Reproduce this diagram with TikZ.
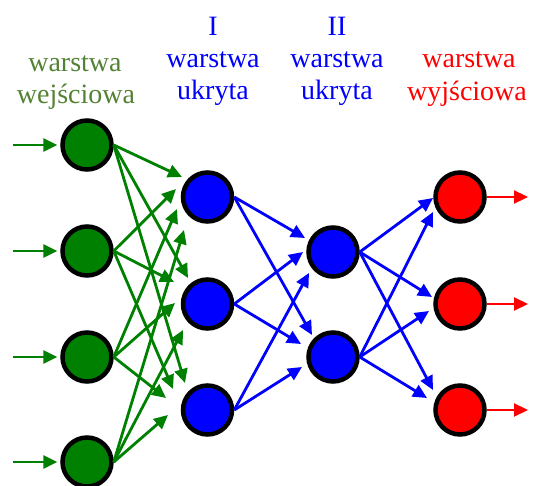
\documentclass[tikz,border=0pt]{standalone}
\usepackage{fontspec}
\setmainfont{Liberation Serif}
\usetikzlibrary{arrows.meta,calc}
\definecolor{nodegreen}{RGB}{0,128,0}
\definecolor{labelgreen}{RGB}{84,130,53}
\begin{document}
\begin{tikzpicture}[x=1pt,y=-1pt,
  neuron/.style={circle,draw=black,line width=4.5pt,minimum size=49pt,inner sep=0pt},
  lbl/.style={anchor=base,inner sep=0pt,font=\fontsize{28}{32}\selectfont},
  garrow/.style={draw=nodegreen,line width=2.8pt,-{Triangle[length=14pt,width=13pt]}},
  barrow/.style={draw=blue,line width=2.8pt,-{Triangle[length=14pt,width=13pt]}},
  outarrow/.style={draw=red,line width=2.2pt,-{Triangle[length=14pt,width=13pt]}}]
\useasboundingbox (0,0) rectangle (533,486);

% layer captions
\node[lbl,text=labelgreen] (cin1) at (75,72) {warstwa};
\node[lbl,text=labelgreen] (cin2) at (76,103.5) {wejściowa};
\node[lbl,text=blue] (ch1a) at (213,36) {I};
\node[lbl,text=blue] (ch1b) at (213,68) {warstwa};
\node[lbl,text=blue] (ch1c) at (213,100) {ukryta};
\node[lbl,text=blue] (ch2a) at (337,36) {II};
\node[lbl,text=blue] (ch2b) at (337,68) {warstwa};
\node[lbl,text=blue] (ch2c) at (337,100) {ukryta};
\node[lbl,text=red] (cout1) at (469,68) {warstwa};
\node[lbl,text=red] (cout2) at (467,101) {wyjściowa};

% neurons
\node[neuron,fill=nodegreen] (i1) at (87,145) {};
\node[neuron,fill=nodegreen] (i2) at (87,251) {};
\node[neuron,fill=nodegreen] (i3) at (87,357) {};
\node[neuron,fill=nodegreen] (i4) at (87,462) {};
\node[neuron,fill=blue] (a1) at (207.5,197) {};
\node[neuron,fill=blue] (a2) at (207.5,304) {};
\node[neuron,fill=blue] (a3) at (207.5,410) {};
\node[neuron,fill=blue] (b1) at (333,252) {};
\node[neuron,fill=blue] (b2) at (333,357) {};
\node[neuron,fill=red] (o1) at (460,197) {};
\node[neuron,fill=red] (o2) at (460,304) {};
\node[neuron,fill=red] (o3) at (460,410) {};

% inputs and outputs
\coordinate (s1) at (13,145);
\coordinate (s2) at (13,251);
\coordinate (s3) at (13,357);
\coordinate (s4) at (13,462);
\coordinate (e1) at (528,197);
\coordinate (e2) at (528,304);
\coordinate (e3) at (528,410);
\foreach \k in {1,...,4} \draw[garrow,shorten >=3pt] (s\k) -- (i\k);
\foreach \k in {1,2,3} \draw[outarrow] (o\k) -- (e\k);

% input layer -> first hidden layer
\draw[garrow] (i1.east) -- ($(a1)+(-25.5,-20)$);
\draw[garrow] (i2.east) -- ($(a1)+(-31.5,-8)$);
\draw[garrow] (i3.east) -- ($(a1)+(-30.5,12)$);
\draw[garrow] (i4.east) -- ($(a1)+(-23.5,33)$);
\draw[garrow] (i1.east) -- ($(a2)+(-19.5,-26)$);
\draw[garrow] (i2.east) -- ($(a2)+(-33.5,-22)$);
\draw[garrow] (i3.east) -- ($(a2)+(-32.5,-1)$);
\draw[garrow] (i4.east) -- ($(a2)+(-24.5,26)$);
\draw[garrow] (i1.east) -- ($(a3)+(-22.5,-27)$);
\draw[garrow] (i2.east) -- ($(a3)+(-34.5,-21)$);
\draw[garrow] (i3.east) -- ($(a3)+(-41.5,-12)$);
\draw[garrow] (i4.east) -- ($(a3)+(-39.5,5)$);

% first hidden layer -> second hidden layer
\draw[barrow] (a1.east) -- ($(b1)+(-28,-14)$);
\draw[barrow] (a2.east) -- ($(b1)+(-30,0)$);
\draw[barrow] (a3.east) -- ($(b1)+(-24,21)$);
\draw[barrow] (a1.east) -- ($(b2)+(-21,-22)$);
\draw[barrow] (a2.east) -- ($(b2)+(-32,-13)$);
\draw[barrow] (a3.east) -- ($(b2)+(-31,10)$);

% second hidden layer -> output layer
\draw[barrow] (b1.east) -- ($(o1)+(-27,1)$);
\draw[barrow] (b2.east) -- ($(o1)+(-27,15)$);
\draw[barrow] (b1.east) -- ($(o2)+(-28,-7)$);
\draw[barrow] (b2.east) -- ($(o2)+(-31,7)$);
\draw[barrow] (b1.east) -- ($(o3)+(-27,-20)$);
\draw[barrow] (b2.east) -- ($(o3)+(-33,-12)$);
\end{tikzpicture}
\end{document}
